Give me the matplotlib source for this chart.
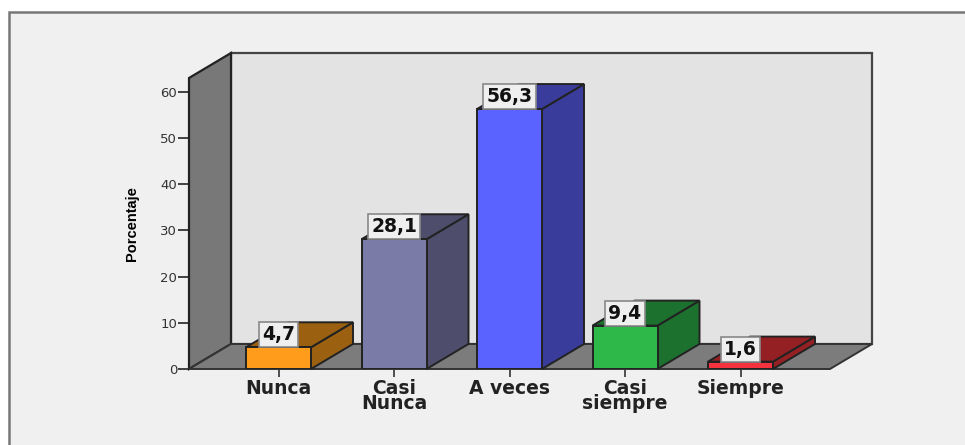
import numpy as np
import matplotlib
matplotlib.use('Agg')
import matplotlib.pyplot as plt
from matplotlib.patches import Polygon, Rectangle

categories = ['Nunca', 'Casi\nNunca', 'A veces', 'Casi\nsiempre', 'Siempre']
values = [4.7, 28.1, 56.3, 9.4, 1.6]
value_labels = ['4,7', '28,1', '56,3', '9,4', '1,6']
yticks = [0, 10, 20, 30, 40, 50, 60]
front_colors = ['#ff9c1c', '#7b7ba8', '#5a62ff', '#2eb84a', '#f5333f']
side_colors = ['#9c6110', '#4e4e6c', '#3a3c9c', '#1c712e', '#952024']

W, H = 965, 445
fig = plt.figure(figsize=(W / 100, H / 100), dpi=100, facecolor='white')

# outer panel
fig.add_artist(Rectangle((9 / W, -0.01), 2, 1 - 12 / H + 0.01, transform=fig.transFigure,
                         facecolor='#f0f0f0', edgecolor='#777777', linewidth=1.8, zorder=-5))

# axes = front edge of the 3d box, in pixels
left, right, bottom, top = 189, 830, 369, 78
ax = fig.add_axes([left / W, 1 - bottom / H, (right - left) / W, (bottom - top) / H])
px_x = 115.5
px_y = 4.617
ax.set_xlim((left - 278.5) / px_x, (right - 278.5) / px_x)
ax.set_ylim(0, (bottom - top) / px_y)
ax.patch.set_alpha(0)
for s in ax.spines.values():
    s.set_visible(False)

dx = 42 / px_x
dy = 25 / px_y
x0, x1 = ax.get_xlim()
y1 = ax.get_ylim()[1]
edge = '#222222'

# walls and floor
ax.add_patch(Polygon([(x0 + dx, dy), (x1 + dx, dy), (x1 + dx, y1 + dy), (x0 + dx, y1 + dy)],
                     facecolor='#e3e3e3', edgecolor='#444444', lw=1.6, clip_on=False, zorder=1))
ax.add_patch(Polygon([(x0, 0), (x0 + dx, dy), (x0 + dx, y1 + dy), (x0, y1)],
                     facecolor='#787878', edgecolor=edge, lw=1.6, clip_on=False, zorder=2))
ax.add_patch(Polygon([(x0, 0), (x1, 0), (x1 + dx, dy), (x0 + dx, dy)],
                     facecolor='#7c7c7c', edgecolor='#333333', lw=1.4, clip_on=False, zorder=2))

bar_w = 65 / px_x
xs = np.arange(len(values))
for i, v in enumerate(values):
    l = xs[i] - bar_w / 2
    r = xs[i] + bar_w / 2
    ax.add_patch(Polygon([(r, 0), (r + dx, dy), (r + dx, v + dy), (r, v)],
                         facecolor=side_colors[i], edgecolor=edge, lw=1.4, clip_on=False, zorder=3))
    ax.add_patch(Polygon([(l, v), (r, v), (r + dx, v + dy), (l + dx, v + dy)],
                         facecolor=side_colors[i], edgecolor=edge, lw=1.4, clip_on=False, zorder=3))
ax.bar(xs, values, width=bar_w, color=front_colors, edgecolor=edge, linewidth=1.4, zorder=4)

# value boxes sit right on top of the bar front
for i, v in enumerate(values):
    ax.annotate(value_labels[i], (xs[i], v), xytext=(0, 2.2), textcoords='offset points',
                ha='center', va='bottom', fontsize=13.5, fontweight='bold', color='#111111',
                family='DejaVu Sans', zorder=6, annotation_clip=False,
                bbox=dict(boxstyle='square,pad=0.16', facecolor='#efefef', edgecolor='#888888', lw=1.2))

ax.set_yticks(yticks)
ax.set_xticks(xs)
ax.set_xticklabels(categories, fontsize=13.5, fontweight='bold', family='DejaVu Sans',
                   color='#222222', linespacing=0.78)
ax.tick_params(axis='y', length=8, width=1.3, color='#333333', labelsize=9.5, labelcolor='#333333', pad=0.5)
ax.tick_params(axis='x', length=6, width=1.2, color='#333333', pad=1)
for t in ax.get_yticklabels():
    t.set_family('DejaVu Sans')
ax.set_ylabel('Porcentaje', fontsize=10.5, fontweight='bold', family='Liberation Sans', labelpad=15)

fig.savefig('out.png', dpi=100, facecolor='white')
